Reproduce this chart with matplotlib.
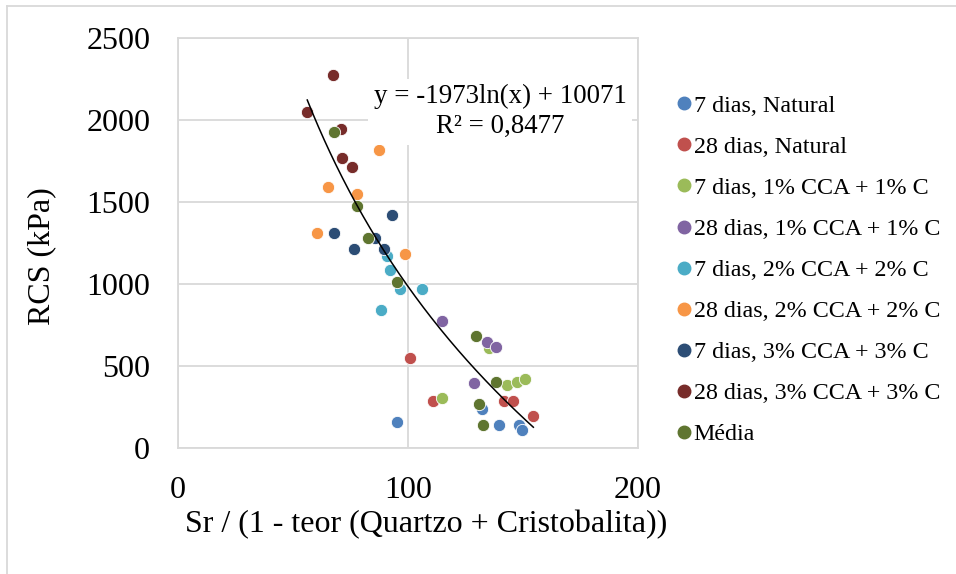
import matplotlib.pyplot as plt
import numpy as np
from matplotlib.lines import Line2D

plt.rcParams['font.family'] = ['Liberation Serif', 'DejaVu Serif']

# series values: (x, RCS in kPa)
nat7_x = [95.2, 132.3, 139.7, 148.1, 149.7]
nat7_y = [159, 238, 140, 140, 108]
nat28_x = [100.7, 111.0, 141.9, 145.7, 154.5]
nat28_y = [549, 285, 287, 287, 197]
c1_7_x = [114.6, 135.4, 143.2, 147.4, 151.0]
c1_7_y = [305, 608, 382, 404, 421]
c1_28_x = [114.6, 134.2, 138.4, 128.7]
c1_28_y = [774, 645, 618, 394]
c2_7_x = [91.0, 92.3, 96.7, 106.2, 88.3]
c2_7_y = [1171, 1087, 968, 968, 841]
c2_28_x = [87.4, 65.4, 77.8, 60.4, 98.7]
c2_28_y = [1817, 1593, 1547, 1311, 1185]
c3_7_x = [93.2, 68.0, 85.7, 76.4, 89.7]
c3_7_y = [1421, 1311, 1280, 1211, 1211]
c3_28_x = [67.3, 56.2, 70.9, 71.4, 75.8]
c3_28_y = [2274, 2051, 1943, 1770, 1711]
media_x = [68.0, 77.8, 82.6, 95.2, 129.4, 138.4, 130.7, 132.8]
media_y = [1925, 1478, 1280, 1010, 685, 404, 266, 140]

labels = ['7 dias, Natural', '28 dias, Natural',
          '7 dias, 1% CCA + 1% C', '28 dias, 1% CCA + 1% C',
          '7 dias, 2% CCA + 2% C', '28 dias, 2% CCA + 2% C',
          '7 dias, 3% CCA + 3% C', '28 dias, 3% CCA + 3% C',
          'Média']
colors = ['#4F81BD', '#C0504D', '#9BBB59', '#8064A2', '#4BACC6',
          '#F79646', '#2C4D75', '#772C2A', '#5F7530']

xs = [nat7_x, nat28_x, c1_7_x, c1_28_x, c2_7_x, c2_28_x, c3_7_x, c3_28_x, media_x]
ys = [nat7_y, nat28_y, c1_7_y, c1_28_y, c2_7_y, c2_28_y, c3_7_y, c3_28_y, media_y]

# logarithmic trendline given on the chart
coef_a, coef_b = -1973, 10071

grid_c = '#d9d9d9'

fig = plt.figure(figsize=(9.56, 5.74), dpi=100)
ax = fig.add_axes([178/956, 1 - 448/574, 460/956, 410/574])

for x, y, c, lab in zip(xs, ys, colors, labels):
    ax.scatter(x, y, s=78, color=c, edgecolors='white', linewidths=0.6,
               label=lab, zorder=3)

all_x = np.concatenate([np.array(v) for v in xs[:-1]])
tx = np.linspace(all_x.min(), all_x.max(), 200)
ax.plot(tx, coef_a * np.log(tx) + coef_b, color='black', lw=1.1, zorder=4)

ax.text(140, 2050, 'y = -1973ln(x) + 10071\nR² = 0,8477', fontsize=19.4,
        ha='center', va='center', multialignment='center', linespacing=1.25,
        zorder=5, bbox=dict(facecolor='white', edgecolor='none', pad=4))

ax.set_xlim(0, 200)
ax.set_ylim(0, 2500)
ax.set_xticks([0, 100, 200])
ax.set_yticks(np.arange(0, 2501, 500))
ax.tick_params(length=0, labelsize=23, pad=20)
ax.grid(True, color=grid_c, lw=1.3, zorder=0)
ax.set_axisbelow(True)
for sp in ax.spines.values():
    sp.set_color(grid_c)
    sp.set_linewidth(1.3)

ax.set_xlabel('Sr / (1 - teor (Quartzo + Cristobalita))', fontsize=23)
ax.set_ylabel('RCS (kPa)', fontsize=23)
ax.xaxis.set_label_coords(0.539, -0.152)
ax.yaxis.set_label_coords(-0.265, 0.468)

handles = [Line2D([], [], marker='o', ls='none', color=c, markersize=9)
           for c in colors]
fig.legend(handles, labels, loc='upper left', bbox_to_anchor=(672/956, 1 - 95/574),
           frameon=False, fontsize=17.3, handletextpad=-0.1, handlelength=1.0,
           labelspacing=0.8, borderpad=0, borderaxespad=0)

# outer chart border (top and left)
fig.add_artist(Line2D([7/956, 1], [1 - 6/574, 1 - 6/574], color=grid_c, lw=1.3,
                      transform=fig.transFigure))
fig.add_artist(Line2D([7/956, 7/956], [0, 1 - 6/574], color=grid_c, lw=1.3,
                      transform=fig.transFigure))

fig.savefig('out.png', dpi=100)
